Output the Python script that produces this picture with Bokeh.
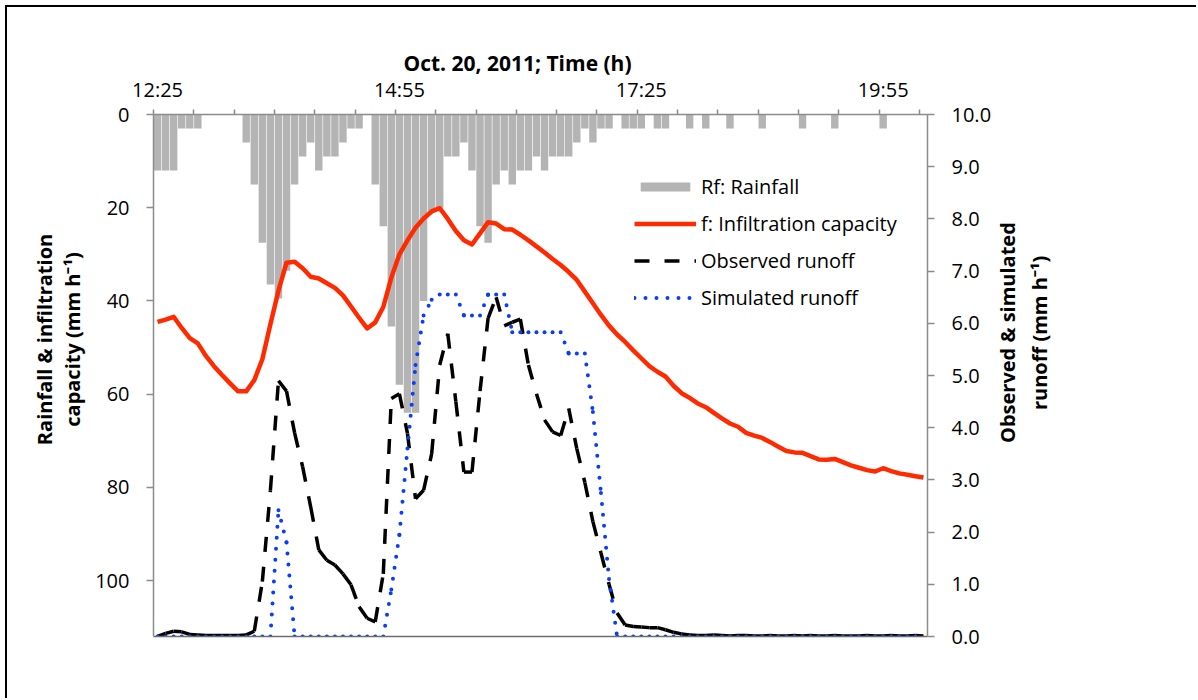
import math
from bokeh.plotting import figure
from bokeh.models import (Range1d, LinearAxis, FixedTicker, PrintfTickFormatter,
                          Legend, LegendItem, ColumnDataSource)
from bokeh.embed import file_html
from bokeh.resources import INLINE

# ---------------- data (5-min intervals starting 12:25, Oct. 20, 2011) ----------------
tick_labels = ["12:25", "14:55", "17:25", "19:55"]
tick_label_index = [0, 30, 60, 90]          # category index carrying each label
step_min = 5                                  # minutes per category

rainfall = [12, 12, 12, 3, 3, 3, 0, 0, 0, 0,
            0, 6, 15, 27.5, 36.5, 39.5, 33.5, 15, 9, 6,
            12, 9, 9, 6, 3, 3, 0, 15, 24, 45.5,
            58, 64, 64, 40, 21, 20, 9, 9, 6, 12,
            24, 27.5, 15, 12, 15, 12, 12, 9, 12, 9,
            9, 9, 6, 3, 6, 3, 3, 0, 3, 3,
            3, 0, 3, 3, 0, 0, 3, 0, 3, 0,
            0, 3, 0, 0, 0, 3, 0, 0, 0, 0,
            3, 0, 0, 0, 3, 0, 0, 0, 0, 0,
            3, 0, 0, 0, 0, 0]

infiltration = [44.5, 44.0, 43.4, 45.8, 48.0, 49.1, 51.8, 54.0, 55.9, 57.7,
                59.4, 59.4, 57.0, 52.5, 45.0, 37.8, 31.8, 31.6, 33.0, 34.8,
                35.2, 36.2, 37.2, 38.8, 41.2, 43.6, 45.9, 44.6, 41.3, 35.0,
                30.0, 27.0, 24.3, 22.3, 20.8, 20.1, 22.4, 25.0, 27.0, 27.9,
                25.5, 23.1, 23.4, 24.6, 24.7, 25.8, 27.0, 28.3, 29.6, 31.0,
                32.3, 33.8, 35.5, 38.0, 40.5, 43.0, 45.3, 47.2, 48.8, 50.6,
                52.3, 54.0, 55.2, 56.2, 58.2, 59.8, 60.8, 62.0, 62.8, 64.0,
                65.2, 66.3, 67.0, 68.3, 68.9, 69.4, 70.3, 71.3, 72.2, 72.5,
                72.6, 73.3, 74.0, 74.1, 73.9, 74.6, 75.3, 75.8, 76.3, 76.6,
                75.9, 76.5, 77.0, 77.3, 77.6, 77.9]

observed = [0.0, 0.06, 0.1, 0.09, 0.04, 0.03, 0.02, 0.02, 0.02, 0.02,
            0.02, 0.03, 0.1, 1.05, 2.8, 4.9, 4.7, 3.9, 3.25, 2.48,
            1.66, 1.46, 1.37, 1.2, 0.99, 0.57, 0.35, 0.28, 1.2, 4.56,
            4.65, 3.89, 2.64, 2.8, 3.5, 5.2, 5.8, 4.5, 3.15, 3.15,
            4.7, 6.1, 6.5, 5.95, 6.02, 6.08, 5.2, 4.65, 4.15, 3.92,
            3.85, 4.37, 3.6, 2.95, 2.2, 1.6, 1.0, 0.45, 0.22, 0.19,
            0.18, 0.17, 0.17, 0.13, 0.08, 0.05, 0.03, 0.02, 0.02, 0.03,
            0.02, 0.01, 0.02, 0.02, 0.01, 0.01, 0.02, 0.01, 0.01, 0.02,
            0.01, 0.02, 0.01, 0.01, 0.02, 0.01, 0.01, 0.01, 0.02, 0.01,
            0.01, 0.02, 0.01, 0.01, 0.02, 0.01]

simulated = [0, 0, 0, 0, 0, 0, 0, 0, 0, 0,
             0, 0, 0, 0, 0, 2.42, 1.8, 0, 0, 0,
             0, 0, 0, 0, 0, 0, 0, 0, 0, 0.9,
             1.95, 3.6, 5.2, 6.15, 6.45, 6.55, 6.55, 6.55, 6.15, 6.15,
             6.15, 6.55, 6.55, 6.55, 5.83, 5.83, 5.83, 5.83, 5.83, 5.83,
             5.83, 5.42, 5.42, 5.42, 4.3, 2.75, 1.1, 0, 0, 0,
             0, 0, 0, 0, 0, 0, 0, 0, 0, 0,
             0, 0, 0, 0, 0, 0, 0, 0, 0, 0,
             0, 0, 0, 0, 0, 0, 0, 0, 0, 0,
             0, 0, 0, 0, 0, 0]

title_top = "Oct. 20, 2011; Time (h)"
title_left = ["Rainfall & infiltration", "capacity (mm h\u207b\u00b9)"]
title_right = ["Observed & simulated", "runoff (mm h\u207b\u00b9)"]

# ---------------- derived positions (minutes after 12:25, category centres) ----------------
n = len(rainfall)
xc = [step_min * i + step_min / 2 for i in range(n)]
x_end = step_min * n


def segments(vals):
    xs = [[xc[i], xc[i + 1]] for i in range(n - 1)]
    ys = [[vals[i], vals[i + 1]] for i in range(n - 1)]
    return xs, ys


FONT = "Open Sans"
AXIS_GREY = "#8c8c8c"

# page offset for the outer black frame line
OFF = 7
p = figure(width=1198 - OFF, height=700 - OFF, output_backend="svg", toolbar_location=None,
           x_range=Range1d(0, x_end), y_range=Range1d(112, 0),
           x_axis_location="above", y_axis_location="left",
           min_border_left=153 - OFF, min_border_right=271,
           min_border_top=114 - OFF, min_border_bottom=64)
p.styles = {"border-left": "2px solid black", "border-top": "2px solid black",
            "margin-left": "5px", "margin-top": "5px"}
p.extra_y_ranges = {"runoff": Range1d(0, 10)}
p.grid.visible = False
p.outline_line_color = None
p.background_fill_color = "white"
p.border_fill_color = "white"


def style_axis(ax, tick_out):
    ax.major_tick_out = tick_out
    ax.major_tick_in = 0
    ax.minor_tick_out = 0
    ax.minor_tick_in = 0
    ax.major_tick_line_color = AXIS_GREY
    ax.major_tick_line_width = 1.5
    ax.axis_line_color = AXIS_GREY
    ax.axis_line_width = 1.5
    ax.major_label_text_font = FONT
    ax.major_label_text_font_size = "20px"
    ax.major_label_text_color = "black"


# top time axis
xa = p.xaxis[0]
style_axis(xa, 0)
major = [xc[i] for i in tick_label_index]
xa.ticker = FixedTicker(ticks=major, minor_ticks=list(range(0, x_end, 25)))
xa.major_label_overrides = {m: t for m, t in zip(major, tick_labels)}
xa.minor_tick_out = 5
xa.minor_tick_line_color = AXIS_GREY
xa.minor_tick_line_width = 1.5
xa.major_label_standoff = 7

# left axis
ya = p.yaxis[0]
style_axis(ya, 7)
ya.ticker = FixedTicker(ticks=[0, 20, 40, 60, 80, 100])
ya.major_label_standoff = 17

# right axis
ra = LinearAxis(y_range_name="runoff", ticker=FixedTicker(ticks=list(range(0, 11))),
                formatter=PrintfTickFormatter(format="%.1f"))
style_axis(ra, 7)
ra.major_label_standoff = 17
p.add_layout(ra, "right")

# bottom line (secondary horizontal axis, no labels)
ba = LinearAxis(ticker=FixedTicker(ticks=[]))
ba.major_tick_out = 0
ba.minor_tick_out = 0
ba.major_label_text_font_size = "0px"
ba.axis_line_color = "#6e6e6e"
ba.axis_line_width = 1.5
p.add_layout(ba, "below")


# axis titles, each line carried as the single tick label of a bare axis
def text_axis(side, text, pos, standoff, orient, range_name=None, size="20px"):
    kw = {}
    if range_name is not None:
        kw["y_range_name"] = range_name
    ax = LinearAxis(ticker=FixedTicker(ticks=[pos]), **kw)
    ax.major_label_overrides = {pos: text}
    ax.major_label_orientation = orient
    ax.major_label_standoff = standoff
    ax.major_label_text_font = FONT
    ax.major_label_text_font_size = size
    ax.major_label_text_font_style = "bold"
    ax.major_label_text_color = "black"
    ax.axis_line_color = None
    ax.major_tick_line_color = None
    ax.minor_tick_line_color = None
    ax.major_tick_out = 0
    ax.major_tick_in = 0
    ax.minor_tick_out = 0
    ax.minor_tick_in = 0
    p.add_layout(ax, side)
    return ax


px_per_min = 774 / x_end
px_per_left = 522 / 112
px_per_right = 522 / 10

text_axis("above", title_top, (517 - 153) / px_per_min, -4, "horizontal", size="21px")
# left: inner line first, outer line second
text_axis("left", title_left[1], (339 - 114) / px_per_left, 7, "vertical")
text_axis("left", title_left[0], (339 - 114) / px_per_left, -2, "vertical")
# right: text starts at the tick and runs upward
text_axis("right", title_right[0], (636.5 - 443) / px_per_right, 13, math.pi / 2,
          range_name="runoff")
text_axis("right", title_right[1], (636.5 - 410) / px_per_right, 2, math.pi / 2,
          range_name="runoff")

# glyphs
bar_src = ColumnDataSource(dict(x=xc, rain=rainfall))
bars = p.vbar(x="x", top="rain", bottom=0, width=4.6, source=bar_src,
              fill_color="#b4b4b4", line_color=None)

red = p.line(xc, infiltration, line_color="#ff2a00", line_width=4.5, line_join="round")

oxs, oys = segments(observed)
obs = p.multi_line(oxs, oys, y_range_name="runoff", line_color="black",
                   line_width=3.5, line_dash="15 15")

sxs, sys_ = segments(simulated)
sim = p.multi_line(sxs, sys_, y_range_name="runoff", line_color="#0a3cff",
                   line_width=4, line_dash="0 11", line_cap="round")

legend = Legend(items=[LegendItem(label="Rf: Rainfall", renderers=[bars]),
                       LegendItem(label="f: Infiltration capacity", renderers=[red]),
                       LegendItem(label="Observed runoff", renderers=[obs]),
                       LegendItem(label="Simulated runoff", renderers=[sim])],
                location=(481, 325), orientation="vertical",
                glyph_width=62, glyph_height=11, label_standoff=5, spacing=10,
                padding=0, margin=0, border_line_color=None, background_fill_alpha=0,
                label_text_font=FONT, label_text_font_size="20px", label_text_color="black")
p.add_layout(legend)

open("out.html", "w").write(file_html(p, INLINE))
